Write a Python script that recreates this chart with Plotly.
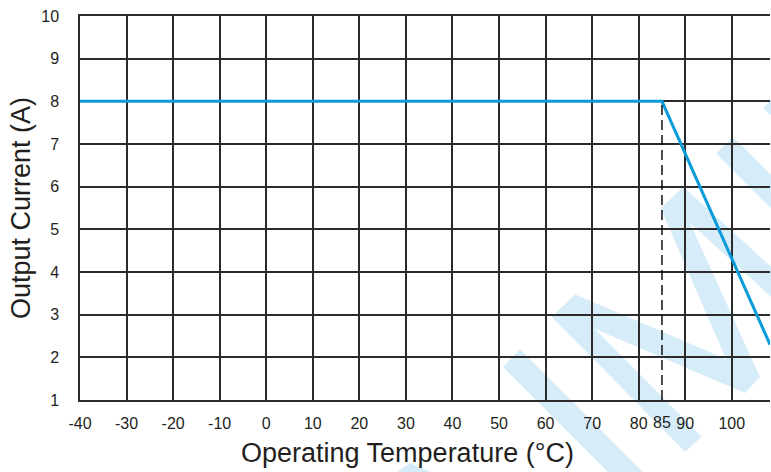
import plotly.graph_objects as go

# ---- data ----
temp_c = [-40, 85, 108.2]
current_a = [8, 8, 2.3]
knee_temp = [85, 85]
knee_current = [1, 8]
x_ticks = [-40, -30, -20, -10, 0, 10, 20, 30, 40, 50, 60, 70, 80, 90, 100]
x_extra_tick = [85]
y_ticks = [1, 2, 3, 4, 5, 6, 7, 8, 9, 10]
x_range = [-40, 108.2]
y_range = [1, 10]

W, H = 771, 472
L, R, T, B = 80, 1, 16, 72
PW, PH = W - L - R, H - T - B

GRID = "#2b2b2b"
BLUE = "#0a9bd9"
WM = "rgb(214,236,249)"
FONT = "Liberation Sans, Arial, sans-serif"
TXT = "#231f20"


def P(X, Y):
    return f"{(X - L) / PW:.4f},{(H - B - Y) / PH:.4f}"


def poly(pts):
    return "M" + " L".join(P(x, y) for x, y in pts) + " Z"


watermark = [
    [(685, 451.7), (551.7, 316.7), (575, 294.3), (726, 359), (660.7, 208.3),
     (683.3, 186.7), (790, 284), (790, 314), (690, 223), (760, 377), (745, 393),
     (595, 329), (701.7, 436.7)],
    [(716, 153.3), (733, 136.7), (800, 203.7), (783, 220.3)],
    [(763, 107.7), (780, 91), (820, 131), (803, 148)],
    [(503, 367), (520, 349), (671, 500), (636, 500)],
    [(397, 472), (410, 463), (440, 476), (420, 490)],
]

fig = go.Figure()
fig.add_trace(go.Scatter(x=temp_c, y=current_a, mode="lines",
                         line=dict(color=BLUE, width=3), showlegend=False,
                         hoverinfo="skip"))
fig.add_trace(go.Scatter(x=knee_temp, y=knee_current, mode="lines", xaxis="x2",
                         line=dict(color="#000000", width=1.4, dash="10px,5px"),
                         showlegend=False, hoverinfo="skip"))

shapes = [dict(type="path", path=poly(p), xref="paper", yref="paper",
               fillcolor=WM, line=dict(width=0), layer="below") for p in watermark]

tickfont = dict(family=FONT, size=16, color=TXT)
fig.update_layout(
    width=W, height=H,
    margin=dict(l=L, r=R, t=T, b=B, pad=0),
    paper_bgcolor="white", plot_bgcolor="rgba(0,0,0,0)",
    showlegend=False,
    shapes=shapes,
    xaxis=dict(range=x_range, tickvals=x_ticks, ticktext=[str(v) for v in x_ticks],
               showgrid=True, gridcolor=GRID, gridwidth=1.5, zeroline=False,
               showline=True, linecolor=GRID, linewidth=1.5, mirror=True,
               ticks="outside", ticklen=8, tickcolor="rgba(0,0,0,0)",
               tickfont=tickfont),
    xaxis2=dict(range=x_range, overlaying="x", anchor="y", side="bottom",
                tickvals=x_extra_tick, ticktext=[str(v) for v in x_extra_tick],
                showgrid=False, zeroline=False, showline=False,
                ticks="outside", ticklen=8, tickcolor="rgba(0,0,0,0)",
                tickfont=dict(family=FONT, size=16, color=TXT)),
    yaxis=dict(range=y_range, tickvals=y_ticks, ticktext=[str(v) for v in y_ticks],
               showgrid=True, gridcolor=GRID, gridwidth=1.5, zeroline=False,
               showline=True, linecolor=GRID, linewidth=1.5,
               ticks="outside", ticklen=16, tickcolor="rgba(0,0,0,0)",
               tickfont=tickfont,
               title=dict(text="Output Current (A)", standoff=3,
                          font=dict(family=FONT, size=27, color=TXT))),
    annotations=[dict(text="Operating Temperature (°C)", xref="paper", yref="paper",
                      x=(407 - L) / PW, y=(H - B - 453) / PH,
                      xanchor="center", yanchor="middle", showarrow=False,
                      font=dict(family=FONT, size=27, color=TXT))],
)

fig.write_html("out.html", config={"displayModeBar": False},
               post_script="document.body.style.margin='0';"
                           "document.body.style.overflow='hidden';")
